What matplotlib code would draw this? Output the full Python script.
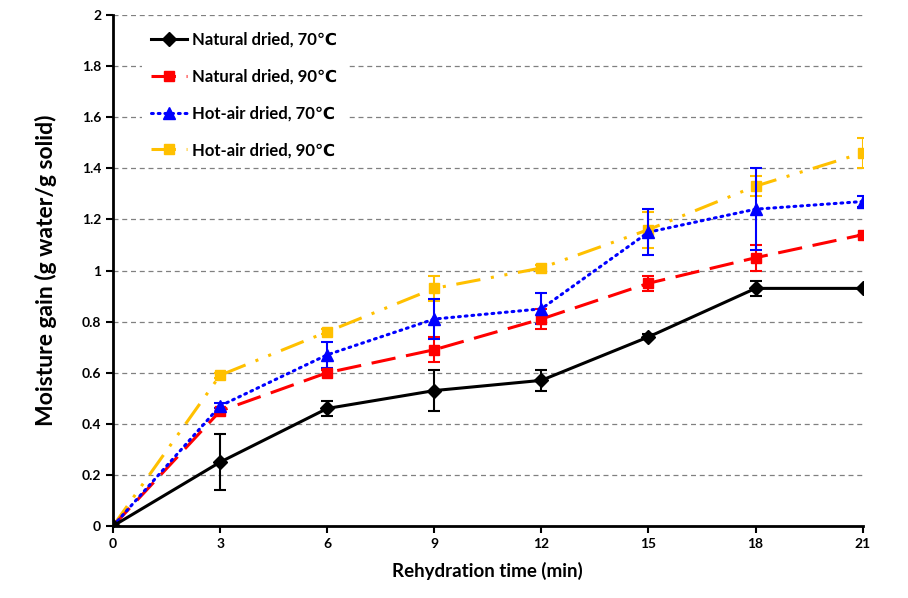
import matplotlib.pyplot as plt

plt.rcParams['font.family'] = ['Lato', 'DejaVu Sans']
plt.rcParams['font.weight'] = 'bold'

time = [0, 3, 6, 9, 12, 15, 18, 21]

nat70 = [0, 0.25, 0.46, 0.53, 0.57, 0.74, 0.93, 0.93]
nat70_err = [0, 0.11, 0.03, 0.08, 0.04, 0.01, 0.03, 0]
nat90 = [0, 0.45, 0.60, 0.69, 0.81, 0.95, 1.05, 1.14]
nat90_err = [0, 0.01, 0.01, 0.05, 0.04, 0.03, 0.05, 0]
hot70 = [0, 0.47, 0.67, 0.81, 0.85, 1.15, 1.24, 1.27]
hot70_err = [0, 0.01, 0.05, 0.08, 0.06, 0.09, 0.16, 0.02]
hot90 = [0, 0.59, 0.76, 0.93, 1.01, 1.16, 1.33, 1.46]
hot90_err = [0, 0.01, 0.01, 0.05, 0.01, 0.07, 0.04, 0.06]

labels = ['Natural dried, 70\u2103', 'Natural dried, 90\u2103',
          'Hot-air dried, 70\u2103', 'Hot-air dried, 90\u2103']

fig = plt.figure(figsize=(9.08, 5.98), dpi=100)
ax = fig.add_axes([0.1245, 0.1204, 0.8255, 0.8545])

lw = 2.2
eb = []
eb.append(ax.errorbar(time, nat70, yerr=nat70_err, color='black', marker='D', markersize=7,
                      linestyle='-', linewidth=lw, capsize=4, elinewidth=1.5, capthick=1.5,
                      zorder=4))
eb.append(ax.errorbar(time, nat90, yerr=nat90_err, color='#ff0000', marker='s', markersize=7,
                      linestyle=(0, (8, 3.5)), linewidth=lw, capsize=4, elinewidth=1.5,
                      capthick=1.5, zorder=3))
eb.append(ax.errorbar(time, hot70, yerr=hot70_err, color='#0000ff', marker='^', markersize=8,
                      linestyle=(0, (0.6, 1.6)), dash_capstyle='round', linewidth=lw,
                      capsize=4, elinewidth=1.5, capthick=1.5, zorder=3))
eb.append(ax.errorbar(time, hot90, yerr=hot90_err, color='#ffc000', marker='s', markersize=7,
                      linestyle=(0, (8, 3.5, 1, 3.5, 1, 3.5)), linewidth=lw, capsize=4,
                      elinewidth=1.5, capthick=1.5, zorder=2))

ax.set_xlim(0, 21)
ax.set_ylim(0, 2)
ax.set_xticks(time)
ax.set_yticks([0, 0.2, 0.4, 0.6, 0.8, 1, 1.2, 1.4, 1.6, 1.8, 2])
ax.set_yticklabels(['0', '0.2', '0.4', '0.6', '0.8', '1', '1.2', '1.4', '1.6', '1.8', '2'])
ax.yaxis.grid(True, linestyle=(0, (4, 3)), color='#808080', linewidth=0.9)
ax.set_axisbelow(True)
for s in ['top', 'right']:
    ax.spines[s].set_visible(False)
for s in ['left', 'bottom']:
    ax.spines[s].set_linewidth(2)
ax.tick_params(axis='both', direction='out', width=1.5, length=5, labelsize=10)

ax.set_xlabel('Rehydration time (min)', fontsize=13.5, fontweight='bold', labelpad=9)
ax.set_ylabel('Moisture gain (g water/g solid)', fontsize=16.5, fontweight='bold', labelpad=18)

leg = ax.legend([c[0] for c in eb], labels, loc='upper left', bbox_to_anchor=(0.028, 1.0),
                frameon=True, fontsize=12, handlelength=2.2, labelspacing=1.25,
                borderpad=0.5, handletextpad=0.3)
leg.get_frame().set_edgecolor('none')
leg.get_frame().set_facecolor('white')
leg.get_frame().set_alpha(1)

fig.savefig('out.png', dpi=100)
